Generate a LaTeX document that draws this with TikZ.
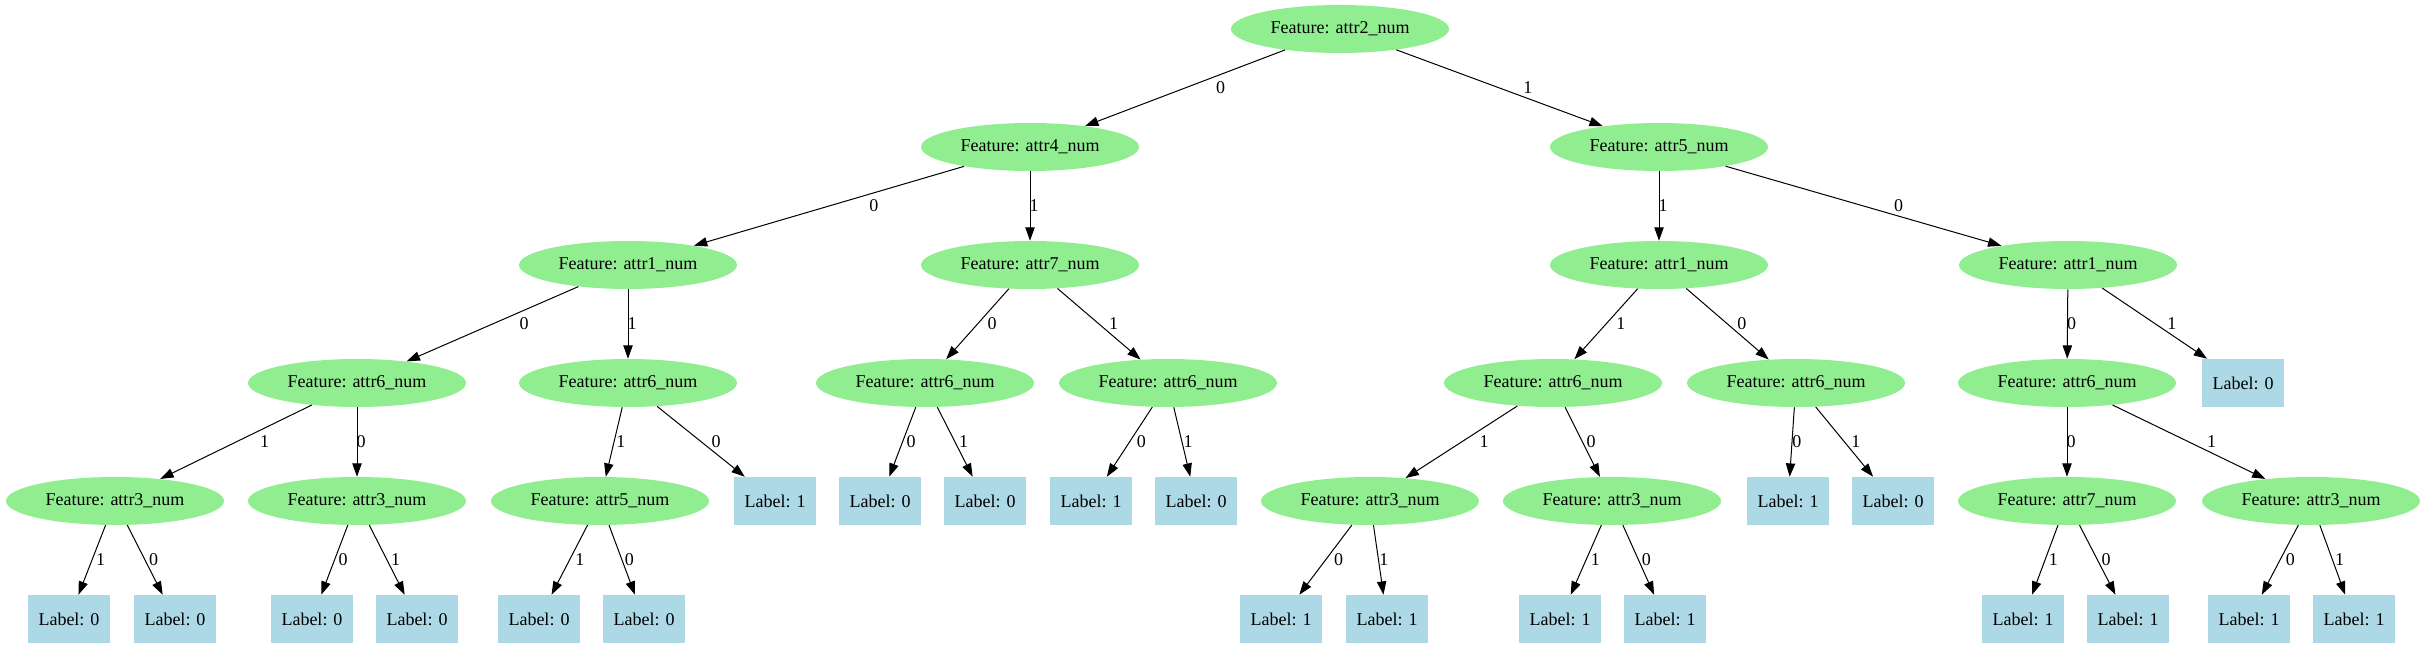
\documentclass[tikz,border=0pt]{standalone}
\usepackage{fontspec}
\setmainfont{Liberation Serif}
\usetikzlibrary{arrows.meta, shapes.geometric}

\begin{document}
\begin{tikzpicture}[
          x=0.75pt, y=-0.75pt,
          feat/.style={ellipse, fill={rgb,255:red,144;green,238;blue,144}, minimum width=163.5pt, minimum height=36pt, inner sep=0pt},
          leaf/.style={rectangle, fill={rgb,255:red,173;green,216;blue,230}, minimum width=61.5pt, minimum height=36pt, inner sep=0pt},
          every node/.style={font=\fontsize{13.5}{16}\selectfont},
          edge/.style={draw, line width=0.75pt, -{Triangle[length=10pt, width=7pt]}},
          lbl/.style={midway, inner sep=0pt, xshift=#1},
          lbl/.default=3pt,
          >=Triangle
        ]
        \useasboundingbox (0,0) rectangle (2425,649);
        % 1
        \node[feat] (r) at (1340,29) {Feature: attr2\_num};
        % 2
        \node[feat] (r0) at (1030,147) {Feature: attr4\_num};
        \node[feat] (r1) at (1659,147) {Feature: attr5\_num};
        % 3
        \node[feat] (r00) at (628,265) {Feature: attr1\_num};
        \node[feat] (r01) at (1030,265) {Feature: attr7\_num};
        \node[feat] (r11) at (1659,265) {Feature: attr1\_num};
        \node[feat] (r10) at (2068,265) {Feature: attr1\_num};
        % 4
        \node[feat] (r000) at (357,383) {Feature: attr6\_num};
        \node[feat] (r001) at (628,383) {Feature: attr6\_num};
        \node[feat] (r010) at (925,383) {Feature: attr6\_num};
        \node[feat] (r011) at (1168,383) {Feature: attr6\_num};
        \node[feat] (r111) at (1553,383) {Feature: attr6\_num};
        \node[feat] (r110) at (1796,383) {Feature: attr6\_num};
        \node[feat] (r100) at (2067,383) {Feature: attr6\_num};
        \node[leaf] (r101) at (2243,383) {Label: 0};
        % 5
        \node[feat] (r0001) at (115,501) {Feature: attr3\_num};
        \node[feat] (r0000) at (357,501) {Feature: attr3\_num};
        \node[feat] (r0011) at (600,501) {Feature: attr5\_num};
        \node[leaf] (r0010) at (775,501) {Label: 1};
        \node[leaf] (r0100) at (880,501) {Label: 0};
        \node[leaf] (r0101) at (985,501) {Label: 0};
        \node[leaf] (r0110) at (1091,501) {Label: 1};
        \node[leaf] (r0111) at (1196,501) {Label: 0};
        \node[feat] (r1111) at (1370,501) {Feature: attr3\_num};
        \node[feat] (r1110) at (1612,501) {Feature: attr3\_num};
        \node[leaf] (r1100) at (1788,501) {Label: 1};
        \node[leaf] (r1101) at (1893,501) {Label: 0};
        \node[feat] (r1000) at (2067,501) {Feature: attr7\_num};
        \node[feat] (r1001) at (2311,501) {Feature: attr3\_num};
        % 6
        \node[leaf] (r00011) at (69,619) {Label: 0};
        \node[leaf] (r00010) at (175,619) {Label: 0};
        \node[leaf] (r00000) at (312,619) {Label: 0};
        \node[leaf] (r00001) at (417,619) {Label: 0};
        \node[leaf] (r00111) at (539,619) {Label: 0};
        \node[leaf] (r00110) at (644,619) {Label: 0};
        \node[leaf] (r11110) at (1281,619) {Label: 1};
        \node[leaf] (r11111) at (1387,619) {Label: 1};
        \node[leaf] (r11101) at (1560,619) {Label: 1};
        \node[leaf] (r11100) at (1665,619) {Label: 1};
        \node[leaf] (r10001) at (2023,619) {Label: 1};
        \node[leaf] (r10000) at (2128,619) {Label: 1};
        \node[leaf] (r10010) at (2249,619) {Label: 1};
        \node[leaf] (r10011) at (2354,619) {Label: 1};

        % edges, left half
        \draw[edge] (r) -- node[lbl=26.7pt] {0} (r0);
        \draw[edge] (r0) -- node[lbl=33.7pt] {0} (r00);
        \draw[edge] (r0) -- node[lbl] {1} (r01);
        \draw[edge] (r00) -- node[lbl=23.7pt] {0} (r000);
        \draw[edge] (r00) -- node[lbl] {1} (r001);
        \draw[edge] (r000) -- node[lbl=21.5pt] {1} (r0001);
        \draw[edge] (r000) -- node[lbl] {0} (r0000);
        \draw[edge] (r0001) -- node[lbl=6.5pt] {1} (r00011);
        \draw[edge] (r0001) -- node[lbl=6.4pt] {0} (r00010);
        \draw[edge] (r0000) -- node[lbl=6.4pt] {0} (r00000);
        \draw[edge] (r0000) -- node[lbl=6.4pt] {1} (r00001);
        \draw[edge] (r001) -- node[lbl=5.2pt] {1} (r0011);
        \draw[edge] (r001) -- node[lbl=11.4pt] {0} (r0010);
        \draw[edge] (r0011) -- node[lbl=7.7pt] {1} (r00111);
        \draw[edge] (r0011) -- node[lbl=5.5pt] {0} (r00110);
        \draw[edge] (r01) -- node[lbl=11pt] {0} (r010);
        \draw[edge] (r01) -- node[lbl=10.9pt] {1} (r011);
        \draw[edge] (r010) -- node[lbl=6.4pt] {0} (r0100);
        \draw[edge] (r010) -- node[lbl=6.4pt] {1} (r0101);
        \draw[edge] (r011) -- node[lbl=8.9pt] {0} (r0110);
        \draw[edge] (r011) -- node[lbl=4.6pt] {1} (r0111);
        % edges, right half
        \draw[edge] (r) -- node[lbl=21.2pt] {1} (r1);
        \draw[edge] (r1) -- node[lbl] {1} (r11);
        \draw[edge] (r1) -- node[lbl=26.4pt] {0} (r10);
        \draw[edge] (r11) -- node[lbl=11.1pt] {1} (r111);
        \draw[edge] (r11) -- node[lbl=10.8pt] {0} (r110);
        \draw[edge] (r111) -- node[lbl=17pt] {1} (r1111);
        \draw[edge] (r111) -- node[lbl=6.4pt] {0} (r1110);
        \draw[edge] (r1111) -- node[lbl=9.8pt] {0} (r11110);
        \draw[edge] (r1111) -- node[lbl=4pt] {1} (r11111);
        \draw[edge] (r1110) -- node[lbl=7pt] {1} (r11101);
        \draw[edge] (r1110) -- node[lbl=6pt] {0} (r11100);
        \draw[edge] (r110) -- node[lbl=3.6pt] {0} (r1100);
        \draw[edge] (r110) -- node[lbl=8.6pt] {1} (r1101);
        \draw[edge] (r10) -- node[lbl] {0} (r100);
        \draw[edge] (r10) -- node[lbl=13pt] {1} (r101);
        \draw[edge] (r100) -- node[lbl] {0} (r1000);
        \draw[edge] (r100) -- node[lbl=17pt] {1} (r1001);
        \draw[edge] (r1000) -- node[lbl=6.3pt] {1} (r10001);
        \draw[edge] (r1000) -- node[lbl=6.4pt] {0} (r10000);
        \draw[edge] (r1001) -- node[lbl=7.7pt] {0} (r10010);
        \draw[edge] (r1001) -- node[lbl=5.4pt] {1} (r10011);
      \end{tikzpicture}
\end{document}
